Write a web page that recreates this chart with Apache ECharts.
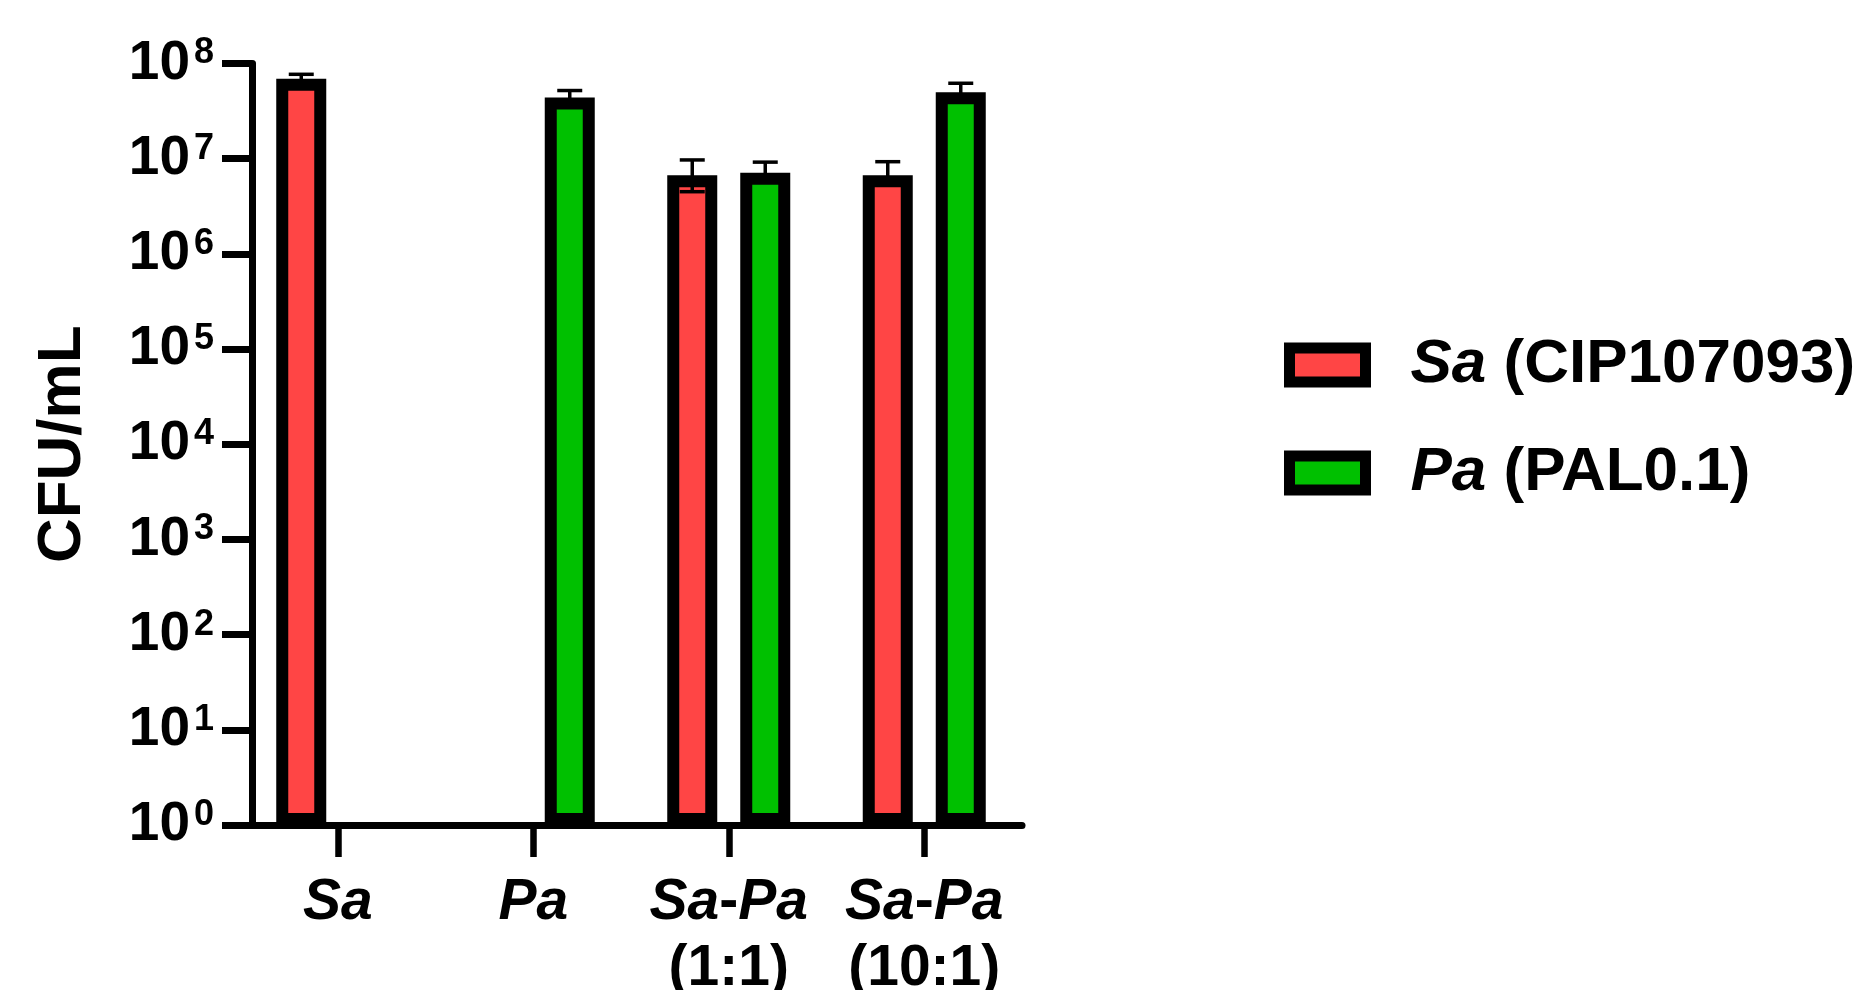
<!DOCTYPE html>
<html>
<head>
<meta charset="utf-8">
<script src="https://cdn.jsdelivr.net/npm/echarts@6/dist/echarts.min.js"></script>
<style>
html,body{margin:0;padding:0;background:#fff;}
#chart{width:1865px;height:990px;}
</style>
</head>
<body>
<div id="chart"></div>
<script>
// ---- data ----
const categories = ['Sa', 'Pa', 'Sa-Pa\n(1:1)', 'Sa-Pa\n(10:1)'];
const seriesNames = ['Sa (CIP107093)', 'Pa (PAL0.1)'];
const saValues   = [6.9e7, null, 6.7e6, 6.7e6];
const saErrHigh  = [7.7e7, null, 9.7e6, 9.3e6];
const saErrLow   = [6.3e7, null, 4.5e6, 5.3e6];
const paValues   = [null, 4.4e7, 7.1e6, 5.0e7];
const paErrHigh  = [null, 5.2e7, 9.2e6, 6.2e7];
const paErrLow   = [null, 4.0e7, 6.4e6, 4.5e7];
const yTickExponents = ['0', '1', '2', '3', '4', '5', '6', '7', '8'];

// ---- style ----
const FONT = "'Liberation Sans', Arial, sans-serif";
const RED = '#FF4545';
const GREEN = '#00C000';
const BAR_W = 50;
const BAR_GAP = 0.46;
const HALF_STEP = BAR_W * (1 + BAR_GAP) / 2;

function errData(lo, hi) {
  const out = [];
  for (let i = 0; i < lo.length; i++) {
    if (lo[i] != null && hi[i] != null) out.push([i, lo[i], hi[i]]);
  }
  return out;
}

function errRender(sign) {
  return function (params, api) {
    const cat = api.value(0);
    const pLo = api.coord([cat, api.value(1)]);
    const pHi = api.coord([cat, api.value(2)]);
    const x = pHi[0] + sign * HALF_STEP;
    const cw = 12.5;
    const st = { stroke: '#000', lineWidth: 3.5 };
    return {
      type: 'group',
      children: [
        { type: 'line', shape: { x1: x, y1: pHi[1], x2: x, y2: pLo[1] }, style: st },
        { type: 'line', shape: { x1: x - cw, y1: pHi[1], x2: x + cw, y2: pHi[1] }, style: st },
        { type: 'line', shape: { x1: x - cw, y1: pLo[1], x2: x + cw, y2: pLo[1] }, style: st }
      ]
    };
  };
}

function italicSpecies(s) {
  return s.replace(/(Sa|Pa)/g, '{i|$1}');
}

const chart = echarts.init(document.getElementById('chart'), null, { renderer: 'canvas' });

chart.setOption({
  backgroundColor: '#fff',
  animation: false,
  textStyle: { fontFamily: FONT },
  grid: { left: 240, width: 782, top: 63.5, height: 761.5, containLabel: false, outerBoundsMode: 'none' },
  legend: {
    data: seriesNames,
    orient: 'vertical',
    left: 1284,
    top: 334,
    padding: 0,
    itemGap: 46,
    itemWidth: 76,
    itemHeight: 34,
    icon: 'rect',
    itemStyle: { borderWidth: 11, borderColor: '#000' },
    formatter: function (name) {
      const k = name.indexOf(' ');
      return '{i|' + name.slice(0, k) + '}{n|' + name.slice(k) + '}';
    },
    textStyle: {
      padding: [0, 0, 0, 40],
      rich: {
        i: { fontFamily: FONT, fontSize: 62, fontWeight: 'bold', fontStyle: 'italic', color: '#000', lineHeight: 70 },
        n: { fontFamily: FONT, fontSize: 62, fontWeight: 'bold', color: '#000', lineHeight: 70 }
      }
    }
  },
  xAxis: {
    type: 'category',
    data: categories,
    axisLine: { lineStyle: { color: '#000', width: 7 } },
    axisTick: { show: true, interval: 0, alignWithLabel: true, length: 32, lineStyle: { color: '#000', width: 6.5 } },
    axisLabel: {
      interval: 0,
      margin: 45,
      color: '#000',
      fontFamily: FONT,
      fontSize: 57,
      fontWeight: 'bold',
      lineHeight: 66,
      formatter: function (v) {
        const lines = v.split('\n');
        lines[0] = italicSpecies(lines[0]);
        return lines.join('\n');
      },
      rich: {
        i: { fontFamily: FONT, fontSize: 57, fontWeight: 'bold', fontStyle: 'italic', color: '#000', lineHeight: 66 }
      }
    }
  },
  yAxis: {
    type: 'log',
    logBase: 10,
    min: 1,
    max: 1e8,
    splitNumber: 8,
    offset: -12,
    name: 'CFU/mL',
    nameLocation: 'middle',
    nameRotate: 90,
    nameGap: 158,
    nameTextStyle: { fontFamily: FONT, fontSize: 62, fontWeight: 'bold', color: '#000' },
    axisLine: { show: true, lineStyle: { color: '#000', width: 7 } },
    axisTick: { show: true, length: 30, lineStyle: { color: '#000', width: 7 } },
    minorTick: { show: false },
    splitLine: { show: false },
    axisLabel: {
      margin: 38,
      formatter: function (v) {
        const e = Math.round(Math.log10(v));
        return '{b|10}{s|' + yTickExponents[e] + '}';
      },
      rich: {
        b: { fontFamily: FONT, fontSize: 55, fontWeight: 'bold', color: '#000', lineHeight: 56 },
        s: { fontFamily: FONT, fontSize: 36, fontWeight: 'bold', color: '#000', verticalAlign: 'top', padding: [0, 0, 0, 4] }
      }
    }
  },
  series: [
    {
      name: seriesNames[0],
      type: 'bar',
      data: saValues,
      barWidth: BAR_W,
      barGap: (BAR_GAP * 100) + '%',
      itemStyle: { color: RED, borderColor: '#000', borderWidth: 12 },
      z: 2
    },
    {
      name: seriesNames[1],
      type: 'bar',
      data: paValues,
      barWidth: BAR_W,
      barGap: (BAR_GAP * 100) + '%',
      itemStyle: { color: GREEN, borderColor: '#000', borderWidth: 12 },
      z: 2
    },
    {
      type: 'custom',
      name: 'errSa',
      data: errData(saErrLow, saErrHigh),
      renderItem: errRender(-1),
      encode: { x: 0, y: [1, 2] },
      z: 5,
      silent: true
    },
    {
      type: 'custom',
      name: 'errPa',
      data: errData(paErrLow, paErrHigh),
      renderItem: errRender(1),
      encode: { x: 0, y: [1, 2] },
      z: 5,
      silent: true
    }
  ]
});
</script>
</body>
</html>
